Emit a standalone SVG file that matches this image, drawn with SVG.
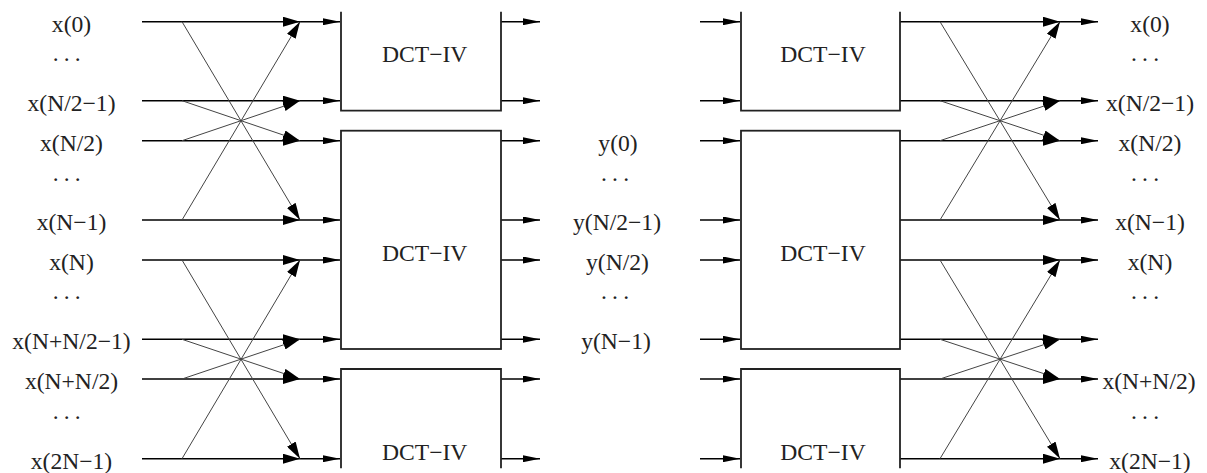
<svg xmlns="http://www.w3.org/2000/svg" width="1207" height="473" viewBox="0 0 1207 473">
<style>
  .h { stroke: #000; stroke-width: 1.6; fill: none; }
  .d { stroke: #444; stroke-width: 1; fill: none; }
  .box { stroke: #222; stroke-width: 1.8; fill: none; }
  .big { marker-end: url(#big); }
  .sm { marker-end: url(#sm); }
  text { font-family: "Liberation Serif", "Times New Roman", serif; font-size: 23.6px; fill: #222; text-anchor: middle; }
  .dots { letter-spacing: 5.2px; }
</style>
<defs>
  <marker id="big" markerUnits="userSpaceOnUse" viewBox="0 0 17 10" markerWidth="17" markerHeight="10" refX="17" refY="5" orient="auto">
    <path d="M0,0 L17,5 L0,10 Z" fill="#000"/>
  </marker>
  <marker id="sm" markerUnits="userSpaceOnUse" viewBox="0 0 17 7" markerWidth="17" markerHeight="7" refX="17" refY="3.5" orient="auto">
    <path d="M0,0 L17,3.5 L0,7 Z" fill="#000"/>
  </marker>
</defs>
<rect width="1207" height="473" fill="#fff"/>

<g id="connectors">
  <!-- left inputs -->
  <g class="h">
    <line class="big" x1="142" y1="21.7" x2="300" y2="21.7"/>
    <line class="big" x1="142" y1="100.7" x2="300" y2="100.7"/>
    <line class="big" x1="142" y1="140.7" x2="300" y2="140.7"/>
    <line class="big" x1="142" y1="220" x2="300" y2="220"/>
    <line class="big" x1="142" y1="260" x2="300" y2="260"/>
    <line class="big" x1="142" y1="339.3" x2="300" y2="339.3"/>
    <line class="big" x1="142" y1="379" x2="300" y2="379"/>
    <line class="big" x1="142" y1="458.7" x2="300" y2="458.7"/>
    <line class="sm" x1="300" y1="21.7" x2="340" y2="21.7"/>
    <line class="sm" x1="300" y1="100.7" x2="340" y2="100.7"/>
    <line class="sm" x1="300" y1="140.7" x2="340" y2="140.7"/>
    <line class="sm" x1="300" y1="220" x2="340" y2="220"/>
    <line class="sm" x1="300" y1="260" x2="340" y2="260"/>
    <line class="sm" x1="300" y1="339.3" x2="340" y2="339.3"/>
    <line class="sm" x1="300" y1="379" x2="340" y2="379"/>
    <line class="sm" x1="300" y1="458.7" x2="340" y2="458.7"/>
  </g>
  <g class="d">
    <line class="big" x1="182" y1="21.7" x2="300" y2="220"/>
    <line class="big" x1="182" y1="220" x2="300" y2="21.7"/>
    <line class="big" x1="182" y1="100.7" x2="300" y2="140.7"/>
    <line class="big" x1="182" y1="140.7" x2="300" y2="100.7"/>
    <line class="big" x1="182" y1="260" x2="300" y2="458.7"/>
    <line class="big" x1="182" y1="458.7" x2="300" y2="260"/>
    <line class="big" x1="182" y1="339.3" x2="300" y2="379"/>
    <line class="big" x1="182" y1="379" x2="300" y2="339.3"/>
  </g>
  <!-- middle -->
  <g class="h">
    <line class="sm" x1="501" y1="21.7" x2="540" y2="21.7"/>
    <line class="sm" x1="501" y1="100.7" x2="540" y2="100.7"/>
    <line class="sm" x1="501" y1="140.7" x2="540" y2="140.7"/>
    <line class="sm" x1="501" y1="220" x2="540" y2="220"/>
    <line class="sm" x1="501" y1="260" x2="540" y2="260"/>
    <line class="sm" x1="501" y1="339.3" x2="540" y2="339.3"/>
    <line class="sm" x1="501" y1="379" x2="540" y2="379"/>
    <line class="sm" x1="501" y1="458.7" x2="540" y2="458.7"/>
    <line class="sm" x1="700" y1="21.7" x2="740" y2="21.7"/>
    <line class="sm" x1="700" y1="100.7" x2="740" y2="100.7"/>
    <line class="sm" x1="700" y1="140.7" x2="740" y2="140.7"/>
    <line class="sm" x1="700" y1="220" x2="740" y2="220"/>
    <line class="sm" x1="700" y1="260" x2="740" y2="260"/>
    <line class="sm" x1="700" y1="339.3" x2="740" y2="339.3"/>
    <line class="sm" x1="700" y1="379" x2="740" y2="379"/>
    <line class="sm" x1="700" y1="458.7" x2="740" y2="458.7"/>
  </g>
  <!-- right outputs -->
  <g class="h">
    <line class="big" x1="900" y1="21.7" x2="1060" y2="21.7"/>
    <line class="big" x1="900" y1="100.7" x2="1060" y2="100.7"/>
    <line class="big" x1="900" y1="140.7" x2="1060" y2="140.7"/>
    <line class="big" x1="900" y1="220" x2="1060" y2="220"/>
    <line class="big" x1="900" y1="260" x2="1060" y2="260"/>
    <line class="big" x1="900" y1="339.3" x2="1060" y2="339.3"/>
    <line class="big" x1="900" y1="379" x2="1060" y2="379"/>
    <line class="big" x1="900" y1="458.7" x2="1060" y2="458.7"/>
    <line class="sm" x1="1060" y1="21.7" x2="1098" y2="21.7"/>
    <line class="sm" x1="1060" y1="100.7" x2="1098" y2="100.7"/>
    <line class="sm" x1="1060" y1="140.7" x2="1098" y2="140.7"/>
    <line class="sm" x1="1060" y1="220" x2="1098" y2="220"/>
    <line class="sm" x1="1060" y1="260" x2="1098" y2="260"/>
    <line class="sm" x1="1060" y1="339.3" x2="1098" y2="339.3"/>
    <line class="sm" x1="1060" y1="379" x2="1098" y2="379"/>
    <line class="sm" x1="1060" y1="458.7" x2="1098" y2="458.7"/>
  </g>
  <g class="d">
    <line class="big" x1="940" y1="21.7" x2="1060" y2="220"/>
    <line class="big" x1="940" y1="220" x2="1060" y2="21.7"/>
    <line class="big" x1="940" y1="100.7" x2="1060" y2="140.7"/>
    <line class="big" x1="940" y1="140.7" x2="1060" y2="100.7"/>
    <line class="big" x1="940" y1="260" x2="1060" y2="458.7"/>
    <line class="big" x1="940" y1="458.7" x2="1060" y2="260"/>
    <line class="big" x1="940" y1="339.3" x2="1060" y2="379"/>
    <line class="big" x1="940" y1="379" x2="1060" y2="339.3"/>
  </g>
</g>

<g id="dct-left-1">
  <path class="box" d="M341,11.7 V110.7 H501 V11.7"/>
  <text x="424.7" y="62">DCT−IV</text>
</g>
<g id="dct-left-2">
  <rect class="box" x="341" y="130.7" width="160" height="218.3"/>
  <text x="424.7" y="260.5">DCT−IV</text>
</g>
<g id="dct-left-3">
  <path class="box" d="M341,468.3 V369 H501 V468.3"/>
  <text x="424.7" y="460">DCT−IV</text>
</g>
<g id="dct-right-1">
  <path class="box" d="M741,11.7 V110.7 H900 V11.7"/>
  <text x="823" y="62">DCT−IV</text>
</g>
<g id="dct-right-2">
  <rect class="box" x="741" y="130.7" width="159" height="218.3"/>
  <text x="823" y="260.5">DCT−IV</text>
</g>
<g id="dct-right-3">
  <path class="box" d="M741,468.3 V369 H900 V468.3"/>
  <text x="823" y="460">DCT−IV</text>
</g>

<g id="labels-left">
  <text x="71.5" y="31.7">x(0)</text>
  <text class="dots" x="69.3" y="61">...</text>
  <text x="71.5" y="110.7">x(N/2−1)</text>
  <text x="71.5" y="150.7">x(N/2)</text>
  <text class="dots" x="69.3" y="180.5">...</text>
  <text x="71.5" y="230">x(N−1)</text>
  <text x="71.5" y="270">x(N)</text>
  <text class="dots" x="69.3" y="299">...</text>
  <text x="71.5" y="349.3">x(N+N/2−1)</text>
  <text x="71.5" y="389">x(N+N/2)</text>
  <text class="dots" x="69.3" y="418.5">...</text>
  <text x="71.5" y="468.7">x(2N−1)</text>
</g>
<g id="labels-middle">
  <text x="618" y="150.7">y(0)</text>
  <text class="dots" x="617.6" y="180.5">...</text>
  <text x="617" y="230">y(N/2−1)</text>
  <text x="617.5" y="270">y(N/2)</text>
  <text class="dots" x="617.6" y="299">...</text>
  <text x="616" y="349.3">y(N−1)</text>
</g>
<g id="labels-right">
  <text x="1150" y="31.7">x(0)</text>
  <text class="dots" x="1147.6" y="61">...</text>
  <text x="1150" y="110.7">x(N/2−1)</text>
  <text x="1150" y="150.7">x(N/2)</text>
  <text class="dots" x="1147.6" y="180.5">...</text>
  <text x="1150" y="230">x(N−1)</text>
  <text x="1150" y="270">x(N)</text>
  <text class="dots" x="1147.6" y="299">...</text>
  <text x="1149" y="389">x(N+N/2)</text>
  <text class="dots" x="1147.6" y="418.5">...</text>
  <text x="1150" y="468.7">x(2N−1)</text>
</g>
</svg>
